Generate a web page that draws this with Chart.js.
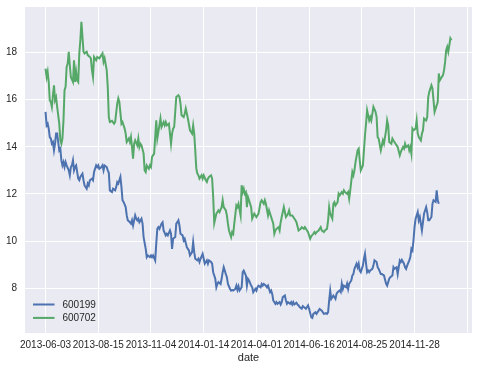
<!DOCTYPE html>
<html>
<head>
<meta charset="utf-8">
<script src="https://cdn.jsdelivr.net/npm/chart.js@4/dist/chart.umd.min.js"></script>
<style>
  html, body { margin: 0; padding: 0; background: #fff; }
  #chart { display: block; }
</style>
</head>
<body>
<canvas id="chart" width="479" height="370"></canvas>
<script>
// trading day index (position in the date index) and close prices
const idx600199 = [0,1,2,3,4,5,6,7,8,9,10,11,12,13,14,15,16,17,18,19,20,22,23,24,25,26,27,28,29,31,32,33,34,35,36,37,39,40,41,42,44,45,46,48,49,50,51,53,54,55,56,58,59,60,61,63,64,66,67,68,69,71,72,73,74,76,77,78,80,81,82,83,85,86,87,88,89,91,92,93,95,96,97,99,100,101,102,104,105,106,107,108,110,111,112,114,115,116,118,119,120,121,123,124,125,126,127,128,130,131,132,134,135,136,137,139,140,141,142,144,145,146,147,149,150,151,153,154,155,157,158,159,161,162,163,164,166,167,168,169,171,172,173,175,176,177,178,180,181,182,183,184,186,187,188,190,191,192,193,195,196,197,199,200,201,202,204,205,206,207,209,210,211,213,214,215,216,218,219,220,222,223,224,225,227,228,229,230,232,233,234,235,236,238,239,240,241,243,244,245,247,248,249,250,252,253,254,256,257,258,259,260,262,263,264,266,267,268,269,270,271,273,274,275,276,277,279,280,281,282,283,285,286,287,288,290,291,292,293,295,296,297,298,299,301,302,303,304,305,306,307,308,310,311,312,314,315,316,318,319,321,323,324,326,327,329,330,331,333,334,336,337,338,340,341,342,343,345,346,347,348,349,350,351,353,354,355,357,358,359,361,362,363,364,366,367,368,370,371,372,373];
const val600199 = [15.48,14.91,14.98,14.77,14.41,14.35,14.13,14.2,13.85,14.13,14.56,14.56,14.2,13.85,13.92,13.42,13.21,13.35,13.14,13.35,13.21,13.0,12.79,13.14,13.21,13.42,13.0,13.14,13.21,12.65,12.58,12.72,12.79,12.86,12.58,12.36,12.22,12.44,12.36,12.58,12.65,12.58,12.93,13.21,13.14,13.21,13.07,13.14,13.21,13.0,13.21,13.14,13.0,12.9,12.15,12.08,12.22,12.15,12.29,12.5,12.44,12.72,12.29,11.73,11.66,11.44,11.09,10.88,10.8,10.74,10.88,10.66,11.09,10.95,10.88,10.95,10.8,10.95,10.74,10.17,9.67,9.32,9.39,9.32,9.39,9.32,9.39,9.18,9.89,10.52,10.59,10.52,10.74,10.8,10.45,10.24,10.31,10.24,10.45,10.31,9.67,10.1,10.17,10.74,10.8,10.88,10.66,10.31,10.24,10.03,10.1,9.74,9.67,9.6,9.39,9.53,9.95,9.53,9.25,9.18,9.25,9.11,9.25,9.46,9.25,9.04,9.18,9.04,9.18,9.11,9.04,8.68,8.4,8.04,8.18,8.26,8.18,8.4,8.68,8.89,8.6,8.47,8.18,7.97,7.9,7.93,7.9,7.97,8.11,7.93,8.08,7.9,8.04,8.68,8.75,8.54,8.11,8.4,8.33,8.11,8.04,7.83,7.97,7.9,8.04,8.11,8.04,8.18,8.11,8.18,8.11,8.04,8.11,7.83,7.9,7.76,7.48,7.34,7.41,7.34,7.41,7.31,7.41,7.62,7.69,7.48,7.34,7.41,7.34,7.41,7.31,7.41,7.31,7.38,7.31,7.27,7.2,7.13,7.24,7.2,7.13,7.2,7.27,7.13,6.77,6.74,6.91,6.98,6.91,6.98,7.05,7.12,7.05,6.98,6.91,6.94,6.91,6.98,7.48,7.9,7.55,7.69,7.62,7.55,7.76,7.83,7.9,7.83,8.19,7.97,8.11,8.04,8.19,7.97,8.19,8.33,8.54,8.6,8.82,9.04,8.89,9.04,8.75,8.68,8.96,9.25,9.46,9.04,8.68,8.75,8.68,8.75,8.82,8.96,9.18,9.11,8.89,8.82,8.6,8.6,8.54,8.19,8.11,8.4,8.47,8.54,8.89,8.82,8.89,8.6,9.18,9.11,9.2,9.04,8.89,8.82,8.96,9.18,9.32,9.67,9.6,10.03,10.59,10.95,11.23,10.88,11.02,10.45,10.8,11.16,11.44,11.23,10.88,10.88,11.02,11.58,11.73,11.66,12.15,11.73,11.58];

const idx600702 = [0,1,2,3,4,5,6,7,8,9,10,11,13,14,15,16,17,18,19,20,21,22,23,24,26,27,28,29,30,31,32,33,34,35,36,37,39,40,42,43,44,45,46,48,49,51,53,54,55,56,58,59,60,61,63,65,66,68,69,70,72,73,75,76,77,79,80,81,82,83,84,85,87,88,89,90,91,93,94,95,96,98,99,100,101,103,104,105,106,107,108,109,110,112,113,114,115,117,119,120,121,122,124,126,127,128,129,131,132,133,134,135,137,138,139,140,141,142,143,144,145,146,148,149,150,152,153,154,155,157,158,159,160,162,163,164,165,167,168,169,171,172,173,174,176,177,178,179,181,182,183,185,186,187,188,189,190,191,192,193,195,196,198,200,202,204,205,207,208,209,211,212,214,216,217,218,219,221,222,223,224,226,227,228,230,231,232,234,235,237,238,240,242,243,245,246,248,249,251,252,254,255,256,257,259,260,261,262,264,265,267,268,269,270,272,273,274,275,277,278,279,281,282,283,284,286,287,288,289,291,292,293,294,296,297,298,299,301,302,303,304,305,307,308,309,310,311,313,314,315,316,318,320,321,323,324,325,326,328,329,330,332,333,334,336,337,339,340,341,342,344,345,346,347,348,349,351,352,353,354,356,357,358,359,361,362,363,364,366,367,368,369,370,372,373,374,375,377,378,379,380,381,382,383,384,385];
const val600702 = [17.32,16.96,17.18,16.75,15.97,15.9,15.69,16.19,16.61,15.97,16.1,15.69,14.98,14.27,14.13,14.35,15.12,16.4,16.54,17.39,17.53,18.03,17.46,16.96,16.75,17.67,16.75,17.18,16.82,16.75,17.96,18.52,19.3,18.66,18.03,17.96,18.03,17.89,17.81,17.75,17.25,16.96,17.81,17.67,17.81,17.75,17.89,17.96,17.6,17.75,17.25,16.54,15.26,15.05,15.1,14.98,15.05,15.83,16.05,15.9,14.98,15.05,14.77,14.56,14.2,14.35,14.2,14.41,13.99,13.5,14.13,14.27,14.06,14.35,13.99,14.13,14.06,13.71,13.0,12.93,13.21,13.07,13.21,13.14,13.57,13.71,14.41,15.12,14.35,14.63,14.91,15.2,14.84,15.05,14.91,15.05,14.91,14.98,14.13,14.56,14.77,14.84,16.11,16.19,16.12,15.83,15.34,15.26,15.4,15.62,15.41,15.2,14.7,14.63,14.56,14.91,14.56,13.85,13.07,12.86,12.79,12.65,12.79,12.65,12.79,12.58,12.51,12.65,12.72,12.79,12.65,11.87,10.76,11.16,11.23,11.3,11.23,11.44,11.73,11.44,11.3,11.09,10.74,10.45,10.17,10.38,10.31,10.74,11.51,11.44,11.58,11.09,12.37,12.08,12.22,12.0,12.07,11.44,11.87,11.73,11.44,10.95,11.16,11.02,11.16,11.65,11.73,11.58,11.73,11.58,11.09,11.3,11.02,10.74,10.31,10.45,10.52,10.59,10.45,10.8,11.02,11.44,11.23,11.02,11.16,11.3,11.09,11.09,11.02,10.88,10.8,10.45,10.52,10.59,10.52,10.59,10.45,10.38,10.1,10.2,10.31,10.38,10.31,10.38,10.45,10.52,10.59,10.45,10.38,10.45,10.52,10.88,11.44,11.16,10.95,11.58,11.65,11.51,11.65,12.01,11.94,12.08,12.01,12.15,12.08,12.01,12.08,11.8,12.15,12.93,12.79,13.0,13.35,13.85,13.92,13.43,13.0,13.21,13.85,14.49,14.98,15.55,15.12,15.26,15.12,15.4,15.69,15.48,15.26,14.41,14.34,13.85,14.27,14.13,14.7,15.12,14.91,14.2,14.13,14.35,14.27,14.13,14.06,13.99,13.64,13.78,13.99,13.92,14.13,13.99,14.06,13.85,13.99,13.71,14.77,14.7,14.77,15.12,14.56,14.41,14.27,14.56,14.7,15.2,15.12,15.26,16.11,16.33,16.61,16.47,15.97,15.48,15.62,15.9,17.11,16.82,16.9,17.04,17.25,17.6,18.1,18.24,18.03,18.31,18.6,18.52];

// x ticks: every 50th row of the index
const tickIdx = [0, 50, 100, 150, 200, 250, 300, 350, 400];
const tickLabels = ['2013-06-03', '2013-08-15', '2013-11-04', '2014-01-14', '2014-04-01', '2014-06-16', '2014-08-25', '2014-11-28', ''];
const yTicks = [8, 10, 12, 14, 16, 18];

const toPoints = (xs, ys) => xs.map((x, k) => ({x: x, y: ys[k]}));

Chart.defaults.font.family = '"Liberation Sans", Arial, sans-serif';
Chart.defaults.font.size = 10;
Chart.defaults.color = '#262626';

const plotBg = {
	id: 'plotBg',
	beforeDraw(chart) {
		const {ctx, chartArea: a} = chart;
		ctx.save();
		ctx.fillStyle = '#EAEAF2';
		ctx.fillRect(a.left, a.top, a.right - a.left, a.bottom - a.top);
		ctx.restore();
	}
};

// legend sits inside the plot, lower left
const innerLegend = {
	id: 'innerLegend',
	afterDatasetsDraw(chart) {
		const {ctx, chartArea: a} = chart;
		ctx.save();
		ctx.font = '10px "Liberation Sans", Arial, sans-serif';
		ctx.textBaseline = 'middle';
		chart.data.datasets.forEach((ds, k) => {
			const y = a.bottom - 28.5 + k * 13.4;
			ctx.strokeStyle = ds.borderColor;
			ctx.lineWidth = 2;
			ctx.beginPath();
			ctx.moveTo(a.left + 8, y);
			ctx.lineTo(a.left + 29.5, y);
			ctx.stroke();
			ctx.fillStyle = '#262626';
			ctx.fillText(ds.label, a.left + 37.5, y + 0.5);
		});
		ctx.restore();
	}
};

new Chart(document.getElementById('chart'), {
	type: 'line',
	data: {
		datasets: [
			{
				label: '600199',
				data: toPoints(idx600199, val600199),
				borderColor: '#4C72B0',
				backgroundColor: '#4C72B0',
				borderWidth: 2,
				pointRadius: 0,
				tension: 0,
				fill: false
			},
			{
				label: '600702',
				data: toPoints(idx600702, val600702),
				borderColor: '#55A868',
				backgroundColor: '#55A868',
				borderWidth: 2,
				pointRadius: 0,
				tension: 0,
				fill: false
			}
		]
	},
	options: {
		responsive: false,
		animation: false,
		devicePixelRatio: 1,
		layout: {padding: {top: 7, right: 7, left: 0, bottom: 0}},
		plugins: {
			legend: {display: false},
			tooltip: {enabled: false}
		},
		scales: {
			x: {
				type: 'linear',
				min: -19.5,
				max: 404.5,
				afterBuildTicks: (axis) => { axis.ticks = tickIdx.map(v => ({value: v})); },
				afterFit: (axis) => { axis.height = 37; axis.paddingLeft = 0; axis.paddingRight = 0; },
				grid: {color: '#ffffff', lineWidth: 1, drawTicks: false},
				border: {display: false},
				ticks: {
					padding: 6,
					maxRotation: 0,
					autoSkip: false,
					callback: (v) => tickLabels[tickIdx.indexOf(v)]
				},
				title: {display: true, text: 'date', font: {size: 11}, padding: {top: 2, bottom: 5}}
			},
			y: {
				min: 6.1,
				max: 19.93,
				afterBuildTicks: (axis) => { axis.ticks = yTicks.map(v => ({value: v})); },
				afterFit: (axis) => { axis.width = 25; axis.paddingTop = 0; axis.paddingBottom = 0; },
				grid: {color: '#ffffff', lineWidth: 1, drawTicks: false},
				border: {display: false},
				ticks: {padding: 8}
			}
		}
	},
	plugins: [plotBg, innerLegend]
});
</script>
</body>
</html>
